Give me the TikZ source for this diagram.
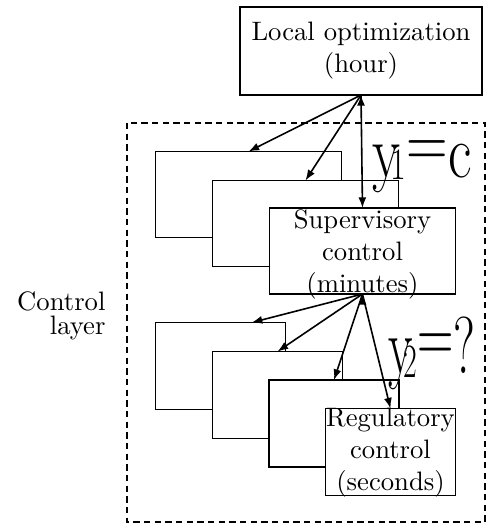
\documentclass[tikz,border=0pt]{standalone}
\usepackage{amsmath,amssymb}
\usepackage{fontspec}
\usetikzlibrary{calc,arrows.meta}

\begin{document}
\begin{tikzpicture}[x=0.375pt,y=-0.375pt,>={Latex[length=4pt,width=3pt]},
	blk/.style={draw,line width=0.65pt,fill=white,inner sep=0pt,outer sep=0pt},
	supblk/.style={blk,minimum width=69.75pt,minimum height=32.25pt},
	regblk/.style={blk,minimum width=48.75pt,minimum height=32.6pt},
	txt/.style={align=center,inner sep=0pt},
	ylab/.style={inner sep=0pt,font={\fontsize{27}{27}\selectfont}}]
			\useasboundingbox (0,0) rectangle (488,524);
			\draw[dashed,line width=0.7pt,dash pattern=on 2.4pt off 1.6pt] (127,123) rectangle (485,522);
			\node[txt,align=right,anchor=east] (lay) at (106,316) {Control\\[-3pt]layer};
			% top level
			\node[blk,minimum width=90.75pt,minimum height=33pt,align=center] (top) at (361,51) {Local optimization\\(hour)};
			% supervisory level
			\node[supblk] (s1) at (248.5,194.5) {};
			\node[supblk] (s2) at (305.5,223.5) {};
			\node[supblk] (s3) at (362.5,251) {};
			\node[txt] (s3t) at (362.5,254) {Supervisory\\control\\(minutes)};
			% regulatory level
			\node[regblk] (r1) at (220.5,366) {};
			\node[regblk] (r2) at (277.5,395) {};
			\node[regblk] (r3) at (334,423.5) {};
			\node[regblk] (r4) at (390.5,452) {};
			\node[txt] (r4t) at (390.5,453) {Regulatory\\control\\(seconds)};
			\draw[->,line width=0.6pt] (top.south) edge (s1.north)
				(top.south) edge (s2.north)
				(top.south) edge (s3.north);
			\draw[->,line width=0.6pt] (s3.south) edge ($(r1.north west)!0.74!(r1.north east)$)
				(s3.south) edge (r2.north)
				(s3.south) edge (r3.north)
				(s3.south) edge (r4.north);
			\node[ylab,anchor=base west] (y1) at (372,177) {\scalebox{0.8}[1.05]{y\kern-4.5pt\raisebox{-1pt}{\fontsize{16}{16}\selectfont 1}\raisebox{3.5pt}{=}c}};
			\node[ylab,anchor=base west] (y2) at (388,373) {\scalebox{0.7}[1.12]{y\kern-5pt\raisebox{-1.5pt}{\fontsize{16}{16}\selectfont 2}\raisebox{3.5pt}{=}?}};
		\end{tikzpicture}
\end{document}
